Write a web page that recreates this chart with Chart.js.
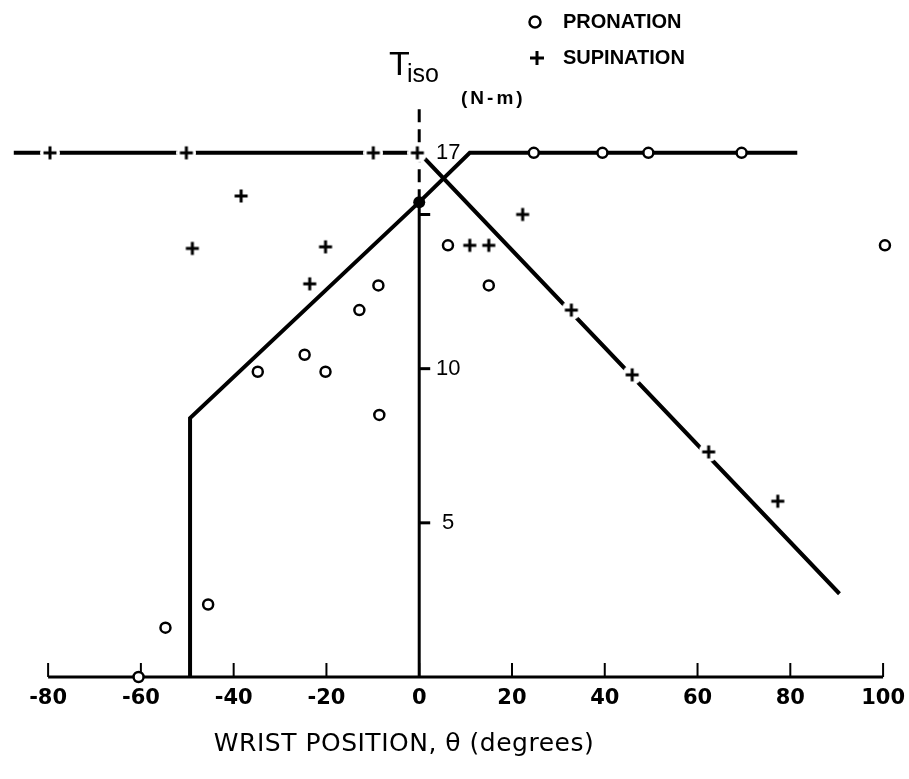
<!DOCTYPE html>
<html>
<head>
<meta charset="utf-8">
<script src="https://cdn.jsdelivr.net/npm/chart.js@4.4.1/dist/chart.umd.min.js"></script>
<style>
  html, body { margin: 0; padding: 0; background: #fff; }
</style>
</head>
<body>
<canvas id="myChart" width="909" height="779"></canvas>
<script>
const pronationX = [-60.5, -54.7, -45.5, -34.8, -24.7, -20.2, -12.9, -8.8, -8.6, 6.2, 15.0, 100.4, 24.7, 39.5, 49.4, 69.5];
const pronationY = [0, 1.6, 2.35, 9.9, 10.45, 9.9, 11.9, 12.7, 8.5, 14.0, 12.7, 14.0, 17, 17, 17, 17];

const supinationX = [-79.6, -50.2, -9.9, -0.4, -38.4, -48.9, -20.2, -23.6, 22.3, 10.9, 15.0, 32.8, 45.9, 62.4, 77.3];
const supinationY = [17, 17, 17, 17, 15.6, 13.9, 13.95, 12.75, 15.0, 14.0, 14.0, 11.9, 9.8, 7.3, 5.7];

// model curves
const supinationModelX = [-87.4, 0, 90.6];
const supinationModelY = [17, 17, 2.7];
const pronationModelX = [-49.4, -49.4, 0, 10.9, 81.5];
const pronationModelY = [0, 8.4, 15.4, 17, 17];
const junctionX = [0];
const junctionY = [15.4];

// axes
const xTicks = [-80, -60, -40, -20, 0, 20, 40, 60, 80, 100];
const yTickMarks = [5, 10, 15];
const yTickLabels = [5, 10, 17];
const yAxisTop = 18.55;

const toPoints = (xs, ys) => xs.map((v, i) => ({x: v, y: ys[i]}));
const FONT = '"Liberation Sans", Arial, sans-serif';
const WIDE = '"DejaVu Sans", sans-serif';

// plus marker with a white ring so lines break around it, like the original
function plusMarker() {
    const size = 20, m = size / 2, arm = 6.5;
    const c = document.createElement('canvas');
    c.width = c.height = size;
    const g = c.getContext('2d');
    g.fillStyle = '#fff';
    g.beginPath();
    g.arc(m, m, m, 0, Math.PI * 2);
    g.fill();
    g.strokeStyle = '#000';
    g.lineWidth = 3;
    g.beginPath();
    g.moveTo(m - arm, m); g.lineTo(m + arm, m);
    g.moveTo(m, m - arm); g.lineTo(m, m + arm);
    g.stroke();
    return c;
}

const decorations = {
    id: 'decorations',
    beforeDatasetsDraw(chart) {
        const {ctx, scales: {x, y}} = chart;
        const x0 = x.getPixelForValue(0);
        const y0 = y.getPixelForValue(0);
        ctx.save();
        ctx.strokeStyle = '#000';

        // horizontal axis with upward ticks
        ctx.lineWidth = 3;
        ctx.beginPath();
        ctx.moveTo(x.getPixelForValue(xTicks[0]), y0);
        ctx.lineTo(x.getPixelForValue(xTicks[xTicks.length - 1]), y0);
        ctx.stroke();
        ctx.lineWidth = 2;
        xTicks.forEach(v => {
            const px = x.getPixelForValue(v);
            ctx.beginPath();
            ctx.moveTo(px, y0);
            ctx.lineTo(px, y0 - 14);
            ctx.stroke();
        });

        // vertical axis: dashed above the junction, solid below
        ctx.lineWidth = 3;
        ctx.beginPath();
        ctx.moveTo(x0, y0);
        ctx.lineTo(x0, y.getPixelForValue(junctionY[0]));
        ctx.stroke();
        ctx.setLineDash([13, 7]);
        ctx.beginPath();
        ctx.moveTo(x0, y.getPixelForValue(junctionY[0]));
        ctx.lineTo(x0, y.getPixelForValue(yAxisTop));
        ctx.stroke();
        ctx.setLineDash([]);
        yTickMarks.forEach(v => {
            const py = y.getPixelForValue(v);
            ctx.beginPath();
            ctx.moveTo(x0, py);
            ctx.lineTo(x0 + 11, py);
            ctx.stroke();
        });
        ctx.restore();
    },
    afterDraw(chart) {
        const {ctx, scales: {x, y}} = chart;
        const x0 = x.getPixelForValue(0);
        const y0 = y.getPixelForValue(0);
        const spacing = 'letterSpacing' in ctx;
        ctx.save();
        ctx.fillStyle = '#000';
        ctx.strokeStyle = '#000';

        // x tick labels
        ctx.font = 'bold 21px ' + WIDE;
        ctx.textAlign = 'center';
        ctx.textBaseline = 'middle';
        xTicks.forEach(v => ctx.fillText(String(v), x.getPixelForValue(v), y0 + 22));

        // y tick labels, right of the axis
        ctx.font = '22px ' + FONT;
        yTickLabels.forEach(v => ctx.fillText(String(v), x0 + 29, y.getPixelForValue(v)));

        // axis title
        ctx.font = '25px ' + WIDE;
        ctx.textBaseline = 'alphabetic';
        if (spacing) ctx.letterSpacing = '0.5px';
        ctx.fillText('WRIST POSITION, \u03b8 (degrees)', 404, 751);
        if (spacing) ctx.letterSpacing = '0px';

        // T iso and unit
        ctx.textAlign = 'left';
        ctx.font = '34px ' + FONT;
        ctx.fillText('T', 389, 75);
        ctx.font = '25px ' + FONT;
        ctx.fillText('iso', 407, 82);
        ctx.font = 'bold 19px ' + FONT;
        ctx.textBaseline = 'middle';
        if (spacing) ctx.letterSpacing = '3px';
        ctx.fillText('(N-m)', 461, 99);
        if (spacing) ctx.letterSpacing = '0px';

        // legend
        ctx.lineWidth = 2.5;
        ctx.beginPath();
        ctx.arc(535, 22, 5.5, 0, Math.PI * 2);
        ctx.stroke();
        ctx.lineWidth = 3;
        ctx.beginPath();
        ctx.moveTo(530, 58); ctx.lineTo(544, 58);
        ctx.moveTo(537, 51); ctx.lineTo(537, 65);
        ctx.stroke();
        ctx.font = 'bold 20px ' + FONT;
        ctx.fillText('PRONATION', 563, 22);
        ctx.fillText('SUPINATION', 563, 58);
        ctx.restore();
    }
};

const ctx = document.getElementById('myChart').getContext('2d');
const chart = new Chart(ctx, {
    type: 'scatter',
    data: {
        datasets: [
            {
                label: 'Supination model',
                data: toPoints(supinationModelX, supinationModelY),
                showLine: true,
                borderColor: '#000',
                borderWidth: 4,
                pointRadius: 0,
                tension: 0,
                clip: false,
                order: 5
            },
            {
                label: 'Pronation model',
                data: toPoints(pronationModelX, pronationModelY),
                showLine: true,
                borderColor: '#000',
                borderWidth: 4,
                pointRadius: 0,
                tension: 0,
                clip: false,
                order: 5
            },
            {
                label: 'SUPINATION',
                data: toPoints(supinationX, supinationY),
                pointStyle: plusMarker(),
                pointRadius: 10,
                clip: false,
                order: 2
            },
            {
                label: 'PRONATION',
                data: toPoints(pronationX, pronationY),
                pointStyle: 'circle',
                pointRadius: 5,
                pointBorderWidth: 2.5,
                pointBackgroundColor: '#fff',
                pointBorderColor: '#000',
                clip: false,
                order: 1
            },
            {
                label: 'junction',
                data: toPoints(junctionX, junctionY),
                pointStyle: 'circle',
                pointRadius: 6,
                pointBorderWidth: 0,
                pointBackgroundColor: '#000',
                clip: false,
                order: 0
            }
        ]
    },
    options: {
        responsive: false,
        animation: false,
        devicePixelRatio: 1,
        layout: {padding: {left: 7, right: 12, top: 5.2, bottom: 102}},
        scales: {
            x: {type: 'linear', min: -88, max: 103, display: false},
            y: {type: 'linear', min: 0, max: 21.6, display: false}
        },
        plugins: {
            legend: {display: false},
            tooltip: {enabled: false}
        }
    },
    plugins: [decorations]
});
</script>
</body>
</html>
